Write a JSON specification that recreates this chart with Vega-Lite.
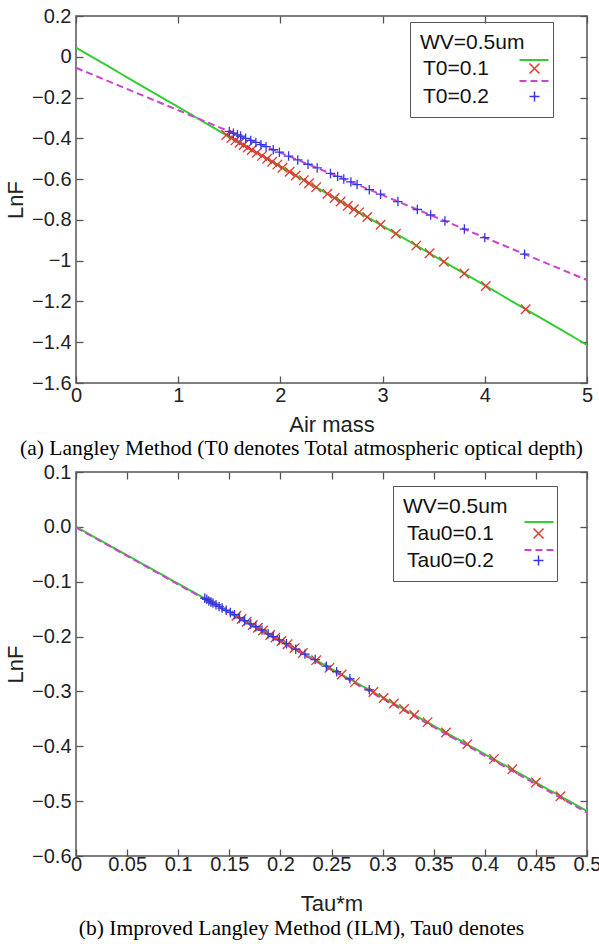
{
  "$schema": "https://vega.github.io/schema/vega-lite/v6.json",
  "background": "white",
  "padding": {"left": 3, "top": 5, "right": 5, "bottom": 0},
  "spacing": 0,
  "config": {
    "view": {"stroke": "#555555", "strokeWidth": 1.5},
    "font": "Liberation Sans",
    "axis": {
      "grid": false, "domain": false, "tickColor": "#555555", "tickWidth": 1.3, "tickSize": -7,
      "labelFont": "Liberation Sans", "labelFontSize": 20, "labelColor": "#222222",
      "labelOverlap": false, "labelFlush": false,
      "titleFont": "Liberation Sans", "titleFontSize": 22, "titleFontWeight": "normal", "titleColor": "#222222"
    }
  },
  "datasets": {
    "a_lines": [
      {"series": "T0=0.1", "x": 0, "y": 0.045},
      {"series": "T0=0.1", "x": 5, "y": -1.413},
      {"series": "T0=0.2", "x": 0, "y": -0.054},
      {"series": "T0=0.2", "x": 5, "y": -1.095}
    ],
    "a_points": [
      {"series": "T0=0.1", "x": 1.47, "y": -0.384},
      {"series": "T0=0.1", "x": 1.52, "y": -0.398},
      {"series": "T0=0.1", "x": 1.56, "y": -0.410},
      {"series": "T0=0.1", "x": 1.60, "y": -0.422},
      {"series": "T0=0.1", "x": 1.64, "y": -0.433},
      {"series": "T0=0.1", "x": 1.68, "y": -0.445},
      {"series": "T0=0.1", "x": 1.72, "y": -0.457},
      {"series": "T0=0.1", "x": 1.77, "y": -0.471},
      {"series": "T0=0.1", "x": 1.82, "y": -0.486},
      {"series": "T0=0.1", "x": 1.87, "y": -0.500},
      {"series": "T0=0.1", "x": 1.92, "y": -0.515},
      {"series": "T0=0.1", "x": 1.97, "y": -0.529},
      {"series": "T0=0.1", "x": 2.02, "y": -0.544},
      {"series": "T0=0.1", "x": 2.09, "y": -0.564},
      {"series": "T0=0.1", "x": 2.15, "y": -0.582},
      {"series": "T0=0.1", "x": 2.23, "y": -0.605},
      {"series": "T0=0.1", "x": 2.28, "y": -0.620},
      {"series": "T0=0.1", "x": 2.35, "y": -0.640},
      {"series": "T0=0.1", "x": 2.46, "y": -0.672},
      {"series": "T0=0.1", "x": 2.53, "y": -0.693},
      {"series": "T0=0.1", "x": 2.59, "y": -0.710},
      {"series": "T0=0.1", "x": 2.66, "y": -0.731},
      {"series": "T0=0.1", "x": 2.72, "y": -0.748},
      {"series": "T0=0.1", "x": 2.77, "y": -0.763},
      {"series": "T0=0.1", "x": 2.85, "y": -0.786},
      {"series": "T0=0.1", "x": 2.98, "y": -0.824},
      {"series": "T0=0.1", "x": 3.13, "y": -0.868},
      {"series": "T0=0.1", "x": 3.33, "y": -0.926},
      {"series": "T0=0.1", "x": 3.46, "y": -0.964},
      {"series": "T0=0.1", "x": 3.60, "y": -1.005},
      {"series": "T0=0.1", "x": 3.80, "y": -1.063},
      {"series": "T0=0.1", "x": 4.01, "y": -1.124},
      {"series": "T0=0.1", "x": 4.40, "y": -1.238},
      {"series": "T0=0.2", "x": 1.50, "y": -0.366},
      {"series": "T0=0.2", "x": 1.54, "y": -0.375},
      {"series": "T0=0.2", "x": 1.58, "y": -0.383},
      {"series": "T0=0.2", "x": 1.61, "y": -0.389},
      {"series": "T0=0.2", "x": 1.66, "y": -0.400},
      {"series": "T0=0.2", "x": 1.71, "y": -0.410},
      {"series": "T0=0.2", "x": 1.76, "y": -0.420},
      {"series": "T0=0.2", "x": 1.81, "y": -0.431},
      {"series": "T0=0.2", "x": 1.86, "y": -0.441},
      {"series": "T0=0.2", "x": 1.93, "y": -0.456},
      {"series": "T0=0.2", "x": 1.99, "y": -0.468},
      {"series": "T0=0.2", "x": 2.08, "y": -0.487},
      {"series": "T0=0.2", "x": 2.17, "y": -0.506},
      {"series": "T0=0.2", "x": 2.27, "y": -0.527},
      {"series": "T0=0.2", "x": 2.36, "y": -0.545},
      {"series": "T0=0.2", "x": 2.49, "y": -0.572},
      {"series": "T0=0.2", "x": 2.56, "y": -0.587},
      {"series": "T0=0.2", "x": 2.62, "y": -0.599},
      {"series": "T0=0.2", "x": 2.69, "y": -0.614},
      {"series": "T0=0.2", "x": 2.75, "y": -0.627},
      {"series": "T0=0.2", "x": 2.87, "y": -0.652},
      {"series": "T0=0.2", "x": 2.98, "y": -0.674},
      {"series": "T0=0.2", "x": 3.15, "y": -0.710},
      {"series": "T0=0.2", "x": 3.34, "y": -0.749},
      {"series": "T0=0.2", "x": 3.47, "y": -0.776},
      {"series": "T0=0.2", "x": 3.61, "y": -0.806},
      {"series": "T0=0.2", "x": 3.80, "y": -0.845},
      {"series": "T0=0.2", "x": 4.00, "y": -0.887},
      {"series": "T0=0.2", "x": 4.39, "y": -0.968}
    ],
    "b_lines": [
      {"series": "Tau0=0.1", "x": 0, "y": 0.0},
      {"series": "Tau0=0.1", "x": 0.5, "y": -0.518},
      {"series": "Tau0=0.2", "x": 0, "y": -0.001},
      {"series": "Tau0=0.2", "x": 0.5, "y": -0.521}
    ],
    "b_points": [
      {"series": "Tau0=0.1", "x": 0.157, "y": -0.162},
      {"series": "Tau0=0.1", "x": 0.162, "y": -0.168},
      {"series": "Tau0=0.1", "x": 0.167, "y": -0.173},
      {"series": "Tau0=0.1", "x": 0.173, "y": -0.179},
      {"series": "Tau0=0.1", "x": 0.178, "y": -0.184},
      {"series": "Tau0=0.1", "x": 0.183, "y": -0.189},
      {"series": "Tau0=0.1", "x": 0.190, "y": -0.197},
      {"series": "Tau0=0.1", "x": 0.195, "y": -0.202},
      {"series": "Tau0=0.1", "x": 0.201, "y": -0.208},
      {"series": "Tau0=0.1", "x": 0.207, "y": -0.214},
      {"series": "Tau0=0.1", "x": 0.214, "y": -0.221},
      {"series": "Tau0=0.1", "x": 0.222, "y": -0.230},
      {"series": "Tau0=0.1", "x": 0.235, "y": -0.243},
      {"series": "Tau0=0.1", "x": 0.248, "y": -0.257},
      {"series": "Tau0=0.1", "x": 0.260, "y": -0.269},
      {"series": "Tau0=0.1", "x": 0.273, "y": -0.283},
      {"series": "Tau0=0.1", "x": 0.291, "y": -0.301},
      {"series": "Tau0=0.1", "x": 0.301, "y": -0.312},
      {"series": "Tau0=0.1", "x": 0.311, "y": -0.322},
      {"series": "Tau0=0.1", "x": 0.321, "y": -0.332},
      {"series": "Tau0=0.1", "x": 0.331, "y": -0.343},
      {"series": "Tau0=0.1", "x": 0.344, "y": -0.356},
      {"series": "Tau0=0.1", "x": 0.362, "y": -0.375},
      {"series": "Tau0=0.1", "x": 0.383, "y": -0.396},
      {"series": "Tau0=0.1", "x": 0.409, "y": -0.423},
      {"series": "Tau0=0.1", "x": 0.427, "y": -0.442},
      {"series": "Tau0=0.1", "x": 0.450, "y": -0.466},
      {"series": "Tau0=0.1", "x": 0.474, "y": -0.491},
      {"series": "Tau0=0.2", "x": 0.126, "y": -0.130},
      {"series": "Tau0=0.2", "x": 0.128, "y": -0.132},
      {"series": "Tau0=0.2", "x": 0.130, "y": -0.135},
      {"series": "Tau0=0.2", "x": 0.132, "y": -0.137},
      {"series": "Tau0=0.2", "x": 0.134, "y": -0.139},
      {"series": "Tau0=0.2", "x": 0.137, "y": -0.142},
      {"series": "Tau0=0.2", "x": 0.140, "y": -0.145},
      {"series": "Tau0=0.2", "x": 0.143, "y": -0.148},
      {"series": "Tau0=0.2", "x": 0.147, "y": -0.152},
      {"series": "Tau0=0.2", "x": 0.151, "y": -0.156},
      {"series": "Tau0=0.2", "x": 0.155, "y": -0.160},
      {"series": "Tau0=0.2", "x": 0.160, "y": -0.166},
      {"series": "Tau0=0.2", "x": 0.165, "y": -0.171},
      {"series": "Tau0=0.2", "x": 0.171, "y": -0.177},
      {"series": "Tau0=0.2", "x": 0.176, "y": -0.182},
      {"series": "Tau0=0.2", "x": 0.182, "y": -0.188},
      {"series": "Tau0=0.2", "x": 0.188, "y": -0.195},
      {"series": "Tau0=0.2", "x": 0.193, "y": -0.200},
      {"series": "Tau0=0.2", "x": 0.199, "y": -0.206},
      {"series": "Tau0=0.2", "x": 0.206, "y": -0.213},
      {"series": "Tau0=0.2", "x": 0.215, "y": -0.223},
      {"series": "Tau0=0.2", "x": 0.224, "y": -0.232},
      {"series": "Tau0=0.2", "x": 0.234, "y": -0.242},
      {"series": "Tau0=0.2", "x": 0.245, "y": -0.254},
      {"series": "Tau0=0.2", "x": 0.255, "y": -0.264},
      {"series": "Tau0=0.2", "x": 0.268, "y": -0.277},
      {"series": "Tau0=0.2", "x": 0.287, "y": -0.297}
    ]
  },
  "vconcat": [
    {
      "width": 511,
      "height": 367,
      "title": {"text": "(a)  Langley Method (T0 denotes Total atmospheric optical depth)", "orient": "bottom", "anchor": "middle", "frame": "group", "font": "Liberation Serif", "fontSize": 21.5, "fontWeight": "normal", "color": "#000000", "dx": -30, "offset": 3},
      "layer": [
        {
          "data": {"name": "a_lines"},
          "mark": {"type": "line", "strokeWidth": 2},
          "encoding": {
            "x": {"field": "x", "type": "quantitative", "scale": {"domain": [0, 5], "nice": false, "zero": false},
                  "axis": {"orient": "bottom", "title": "Air mass", "values": [0, 1, 2, 3, 4, 5], "format": "~g", "labelPadding": 9, "titlePadding": 9}},
            "y": {"field": "y", "type": "quantitative", "scale": {"domain": [-1.6, 0.2], "nice": false, "zero": false},
                  "axis": {"orient": "left", "title": "LnF", "values": [-1.6, -1.4, -1.2, -1, -0.8, -0.6, -0.4, -0.2, 0, 0.2], "format": "~g", "labelPadding": 12, "titlePadding": 4}},
            "stroke": {"field": "series", "type": "nominal", "scale": {"range": ["#33cc33", "#cc44cc"]},
                       "legend": {"orient": "none", "legendX": 452, "legendY": 38, "title": null, "labelExpr": "''", "labelFontSize": 1, "padding": 0, "rowPadding": 11, "symbolType": "M-2.9,0L2.9,0", "symbolSize": 100, "symbolStrokeWidth": 2}},
            "strokeDash": {"field": "series", "type": "nominal", "scale": {"range": [[1, 0], [7, 4]]}}
          }
        },
        {
          "data": {"name": "a_points"},
          "mark": {"type": "point", "filled": false, "size": 90, "strokeWidth": 1.3, "opacity": 1},
          "encoding": {
            "x": {"field": "x", "type": "quantitative", "axis": {"orient": "top", "labels": false, "title": null, "values": [0, 1, 2, 3, 4, 5]}},
            "y": {"field": "y", "type": "quantitative", "axis": {"orient": "right", "labels": false, "title": null, "values": [-1.6, -1.4, -1.2, -1, -0.8, -0.6, -0.4, -0.2, 0, 0.2]}},
            "color": {"field": "series", "type": "nominal", "scale": {"range": ["#e0392e", "#3636dd"]},
                      "legend": {"orient": "none", "legendX": 334, "legendY": 6, "title": "WV=0.5um", "titleFont": "Liberation Sans", "titleFontSize": 21, "titleFontWeight": "normal", "titleColor": "#111111", "titlePadding": 5, "labelFont": "Liberation Sans", "labelFontSize": 21, "labelColor": "#111111", "strokeColor": "#555555", "padding": 10, "rowPadding": 6, "symbolStrokeWidth": 1.5, "symbolSize": 100, "symbolOffset": 104, "labelOffset": -122}},
            "shape": {"field": "series", "type": "nominal", "scale": {"range": ["M-1,-1L1,1M-1,1L1,-1", "M-1,0L1,0M0,-1L0,1"]}}
          }
        }
      ],
      "resolve": {"axis": {"x": "independent", "y": "independent"}}
    },
    {
      "width": 511,
      "height": 384,
      "title": {"text": "(b) Improved Langley Method (ILM), Tau0 denotes", "orient": "bottom", "anchor": "middle", "frame": "group", "font": "Liberation Serif", "fontSize": 21.5, "fontWeight": "normal", "color": "#000000", "dx": -30, "offset": 4},
      "layer": [
        {
          "data": {"name": "b_lines"},
          "mark": {"type": "line", "strokeWidth": 2},
          "encoding": {
            "x": {"field": "x", "type": "quantitative", "scale": {"domain": [0, 0.5], "nice": false, "zero": false},
                  "axis": {"orient": "bottom", "title": "Tau*m", "values": [0, 0.05, 0.1, 0.15, 0.2, 0.25, 0.3, 0.35, 0.4, 0.45, 0.5], "format": "~g", "labelPadding": 5, "titlePadding": 19}},
            "y": {"field": "y", "type": "quantitative", "scale": {"domain": [-0.6, 0.1], "nice": false, "zero": false},
                  "axis": {"orient": "left", "title": "LnF", "values": [-0.6, -0.5, -0.4, -0.3, -0.2, -0.1, 0, 0.1], "format": ".1f", "labelPadding": 12, "titlePadding": 4}},
            "stroke": {"field": "series", "type": "nominal", "scale": {"range": ["#33cc33", "#cc44cc"]},
                       "legend": {"orient": "none", "legendX": 457, "legendY": 44, "title": null, "labelExpr": "''", "labelFontSize": 1, "padding": 0, "rowPadding": 18, "symbolType": "M-2.9,0L2.9,0", "symbolSize": 100, "symbolStrokeWidth": 2}},
            "strokeDash": {"field": "series", "type": "nominal", "scale": {"range": [[1, 0], [7, 4]]}}
          }
        },
        {
          "data": {"name": "b_points"},
          "mark": {"type": "point", "filled": false, "size": 90, "strokeWidth": 1.3, "opacity": 1},
          "encoding": {
            "x": {"field": "x", "type": "quantitative", "axis": {"orient": "top", "labels": false, "title": null, "values": [0, 0.05, 0.1, 0.15, 0.2, 0.25, 0.3, 0.35, 0.4, 0.45, 0.5]}},
            "y": {"field": "y", "type": "quantitative", "axis": {"orient": "right", "labels": false, "title": null, "values": [-0.6, -0.5, -0.4, -0.3, -0.2, -0.1, 0, 0.1]}},
            "color": {"field": "series", "type": "nominal", "scale": {"range": ["#e0392e", "#3636dd"]},
                      "legend": {"orient": "none", "legendX": 317, "legendY": 14, "title": "WV=0.5um", "titleFont": "Liberation Sans", "titleFontSize": 21, "titleFontWeight": "normal", "titleColor": "#111111", "titlePadding": 6, "labelFont": "Liberation Sans", "labelFontSize": 21, "labelColor": "#111111", "strokeColor": "#555555", "padding": 10, "rowPadding": 5, "symbolStrokeWidth": 1.5, "symbolSize": 100, "symbolOffset": 125, "labelOffset": -142}},
            "shape": {"field": "series", "type": "nominal", "scale": {"range": ["M-1,-1L1,1M-1,1L1,-1", "M-1,0L1,0M0,-1L0,1"]}}
          }
        }
      ],
      "resolve": {"axis": {"x": "independent", "y": "independent"}}
    }
  ],
  "resolve": {
    "scale": {"color": "independent", "shape": "independent", "stroke": "independent", "strokeDash": "independent"},
    "legend": {"color": "independent", "shape": "independent", "stroke": "independent", "strokeDash": "independent"}
  }
}
